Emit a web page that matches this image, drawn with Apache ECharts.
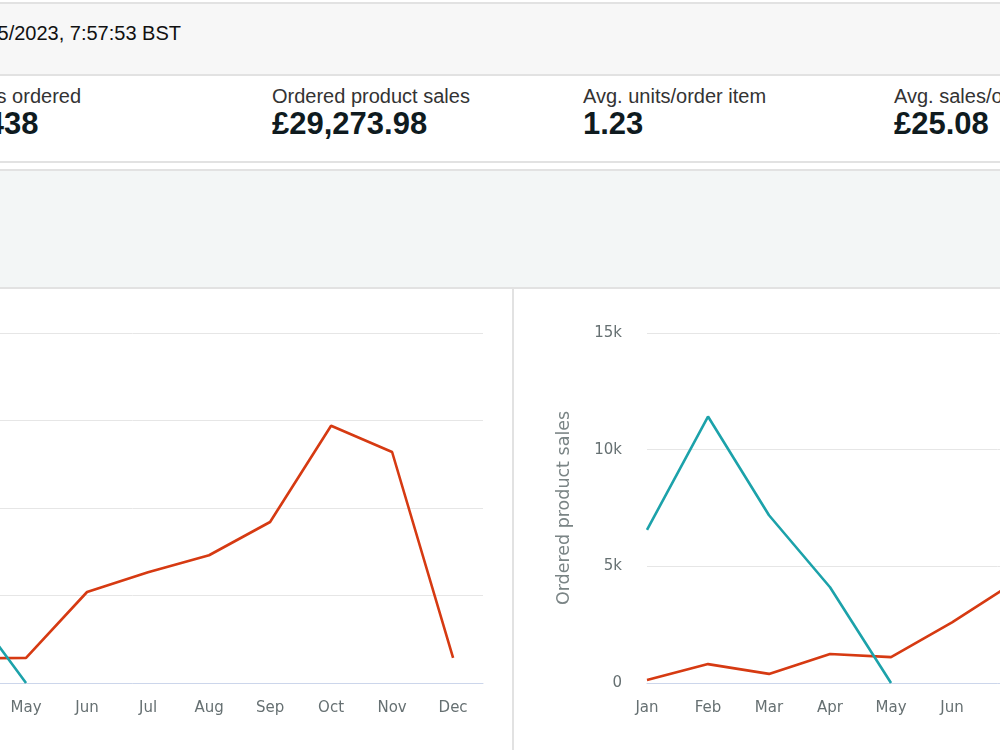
<!DOCTYPE html>
<html>
<head>
<meta charset="utf-8">
<script src="https://cdn.jsdelivr.net/npm/echarts@6/dist/echarts.min.js"></script>
<style>
  html, body {
    margin: 0;
    width: 1000px;
    height: 750px;
    overflow: hidden;
    background: #fff;
    font-family: "Liberation Sans", Arial, sans-serif;
    position: relative;
  }
  .snapshot {
    position: absolute;
    top: 2px;
    left: 0;
    width: 1000px;
    height: 70px;
    background: #f7f7f7;
    border-top: 2px solid #e2e2e2;
    border-bottom: 2px solid #e2e2e2;
  }
  .snapshot span {
    position: absolute;
    right: 819px;
    top: 18px;
    font-size: 20px;
    color: #111;
    white-space: nowrap;
  }
  .metrics {
    position: absolute;
    top: 76px;
    left: 0;
    width: 1000px;
    height: 85px;
    border-bottom: 2px solid #e2e2e2;
  }
  .metric {
    position: absolute;
    top: 8px;
    white-space: nowrap;
  }
  .metric .label {
    font-size: 20px;
    color: #333;
    line-height: 24px;
  }
  .metric .value {
    font-size: 31px;
    font-weight: bold;
    color: #0f1b1f;
    line-height: 32px;
  }
  .panel {
    position: absolute;
    top: 169px;
    left: 0;
    width: 1000px;
    height: 116px;
    background: #f3f6f6;
    border-top: 2px solid #e2e2e2;
    border-bottom: 2px solid #e2e2e2;
  }
  .divider {
    position: absolute;
    top: 289px;
    left: 512px;
    width: 2px;
    height: 461px;
    background: #e2e2e2;
  }
  #unitsChart {
    position: absolute;
    top: 288px;
    left: -350px;
    width: 862px;
    height: 462px;
  }
  #salesChart {
    position: absolute;
    top: 288px;
    left: 515px;
    width: 900px;
    height: 462px;
  }
</style>
</head>
<body>
<div class="snapshot"><span>Sales snapshot taken at 16/05/2023, 7:57:53 BST</span></div>
<div class="metrics" id="metrics"></div>
<div class="panel"></div>
<div class="divider"></div>
<div id="unitsChart"></div>
<div id="salesChart"></div>

<script>
const months = ['Jan', 'Feb', 'Mar', 'Apr', 'May', 'Jun', 'Jul', 'Aug', 'Sep', 'Oct', 'Nov', 'Dec']

// this year so far (teal) vs last year (red)
const unitsThisYear = [338, 588, 370, 142, 0]
const unitsLastYear = [6, 32, 16, 42, 43, 156, 190, 219, 276, 441, 396, 43]
const salesThisYear = [6560, 11420, 7190, 4104, 0]
const salesLastYear = [130, 810, 390, 1240, 1110, 2600, 4280, 4900, 6200, 9800, 8800, 1000]

const metricLabels = ['Units ordered', 'Ordered product sales', 'Avg. units/order item', 'Avg. sales/order item']
const metricValues = ['1,438', '£29,273.98', '1.23', '£25.08']
const metricLefts = [-39, 272, 583, 894]

// summary numbers
const metricsBox = document.getElementById('metrics')
metricLabels.forEach((label, i) => {
  const el = document.createElement('div')
  el.className = 'metric'
  el.style.left = metricLefts[i] + 'px'
  el.innerHTML = '<div class="label">' + label + '</div><div class="value">' + metricValues[i] + '</div>'
  metricsBox.appendChild(el)
})

const TEAL = '#1ca2aa'
const RED = '#d63a12'
const labelFont = 'DejaVu Sans'

function toPoints(values) {
  return values.map((v, i) => [i, v])
}

function chartOption(thisYear, lastYear, yMax, yInterval, yName) {
  return {
    animation: false,
    grid: { left: 132, top: 45, width: 701, height: 350 },
    xAxis: {
      type: 'value',
      min: 0,
      max: 11.49,
      interval: 1,
      axisLine: { show: true, lineStyle: { color: '#ccd6eb', width: 1 } },
      axisTick: { show: false },
      splitLine: { show: false },
      axisLabel: {
        margin: 18,
        showMaxLabel: false,
        fontFamily: labelFont,
        fontSize: 15,
        color: '#667072',
        formatter: v => (Number.isInteger(v) ? months[v] || '' : ''),
      },
    },
    yAxis: {
      type: 'value',
      min: 0,
      max: yMax,
      interval: yInterval,
      name: yName,
      nameLocation: 'middle',
      nameGap: 74,
      nameTextStyle: { fontFamily: labelFont, fontSize: 17.5, color: '#7a8485' },
      axisLine: { show: false },
      axisTick: { show: false },
      splitLine: { lineStyle: { color: '#e6e6e6', width: 1 } },
      axisLabel: {
        margin: 25,
        fontFamily: labelFont,
        fontSize: 15,
        color: '#667072',
        formatter: v => (v >= 1000 ? v / 1000 + 'k' : String(v)),
      },
    },
    series: [
      {
        type: 'line',
        data: toPoints(lastYear),
        symbol: 'none',
        lineStyle: { color: RED, width: 2.6 },
        itemStyle: { color: RED },
      },
      {
        type: 'line',
        data: toPoints(thisYear),
        symbol: 'none',
        lineStyle: { color: TEAL, width: 2.6 },
        itemStyle: { color: TEAL },
      },
    ],
  }
}

const unitsInstance = echarts.init(document.getElementById('unitsChart'))
unitsInstance.setOption(chartOption(unitsThisYear, unitsLastYear, 600, 150, 'Units ordered'))

const salesInstance = echarts.init(document.getElementById('salesChart'))
salesInstance.setOption(chartOption(salesThisYear, salesLastYear, 15000, 5000, 'Ordered product sales'))
</script>
</body>
</html>
